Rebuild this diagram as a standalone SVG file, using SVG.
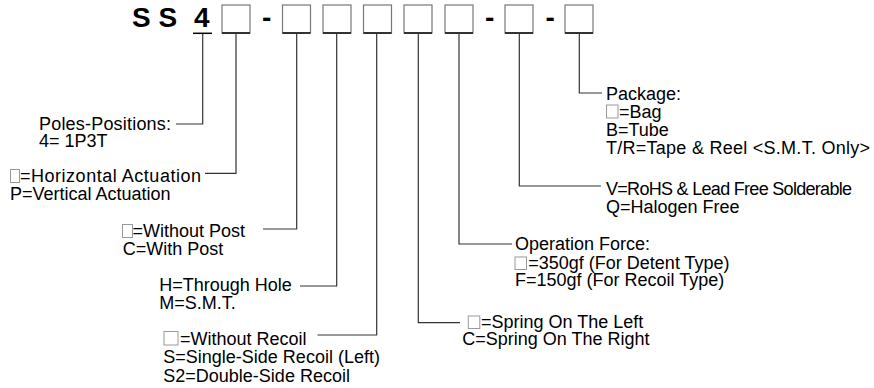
<svg xmlns="http://www.w3.org/2000/svg" width="874" height="388" viewBox="0 0 874 388">
<style>
.t{font-family:"Liberation Sans",Arial,sans-serif;font-size:18px;fill:#000}
.h{font-family:"Liberation Sans",Arial,sans-serif;font-size:28px;font-weight:bold;fill:#000}
.bx{fill:#fff;stroke:#777;stroke-width:1.2}
.bb{stroke:#333;stroke-width:2}
.sb{fill:#fff;stroke:#999;stroke-width:1}
.ln{fill:none;stroke:#333;stroke-width:1.2}
</style>
<rect width="874" height="388" fill="#fff"/>
<g id="code">
<text class="h" x="132" y="26.5">S S</text>
<text class="h" x="194" y="26.5">4</text>
<line x1="193" y1="33.3" x2="212" y2="33.3" stroke="#000" stroke-width="1.5"/>
<text class="h" x="262" y="26.5">-</text>
<text class="h" x="485" y="26.5">-</text>
<text class="h" x="545.5" y="26.5">-</text>
</g>
<g id="boxes">
<rect class="bx" x="222" y="5" width="28" height="28"/><line class="bb" x1="222" y1="33" x2="250" y2="33"/>
<rect class="bx" x="282.5" y="5" width="28" height="28"/><line class="bb" x1="282.5" y1="33" x2="310.5" y2="33"/>
<rect class="bx" x="323" y="5" width="28" height="28"/><line class="bb" x1="323" y1="33" x2="351" y2="33"/>
<rect class="bx" x="363.5" y="5" width="28" height="28"/><line class="bb" x1="363.5" y1="33" x2="391.5" y2="33"/>
<rect class="bx" x="404" y="5" width="28" height="28"/><line class="bb" x1="404" y1="33" x2="432" y2="33"/>
<rect class="bx" x="445" y="5" width="28" height="28"/><line class="bb" x1="445" y1="33" x2="473" y2="33"/>
<rect class="bx" x="505" y="5" width="28" height="28"/><line class="bb" x1="505" y1="33" x2="533" y2="33"/>
<rect class="bx" x="565" y="5" width="28" height="28"/><line class="bb" x1="565" y1="33" x2="593" y2="33"/>
</g>
<g id="connectors">
<polyline class="ln" points="202.7,34 202.7,124 176,124"/>
<polyline class="ln" points="236,34 236,173.3 205,173.3"/>
<polyline class="ln" points="296.7,34 296.7,229 263,229"/>
<polyline class="ln" points="336.7,34 336.7,286 300,286"/>
<polyline class="ln" points="376.7,34 376.7,335 317.5,335"/>
<polyline class="ln" points="418.3,34 418.3,322.7 460,322.7"/>
<polyline class="ln" points="459,34 459,244 512,244"/>
<polyline class="ln" points="519.3,34 519.3,186 601,186"/>
<polyline class="ln" points="579.3,34 579.3,93 602,93"/>
</g>
<g id="poles">
<text class="t" x="39" y="129.5" textLength="132" lengthAdjust="spacing">Poles-Positions:</text>
<text class="t" x="39" y="146.7">4= 1P3T</text>
</g>
<g id="actuation">
<rect class="sb" x="10.5" y="169.5" width="9" height="13"/>
<text class="t" x="20" y="182" textLength="181" lengthAdjust="spacing">=Horizontal Actuation</text>
<text class="t" x="10" y="199.5">P=Vertical Actuation</text>
</g>
<g id="post">
<rect class="sb" x="122.5" y="224.5" width="10" height="13"/>
<text class="t" x="132.5" y="237">=Without Post</text>
<text class="t" x="122.7" y="255">C=With Post</text>
</g>
<g id="mounting">
<text class="t" x="159.3" y="290.5">H=Through Hole</text>
<text class="t" x="159.3" y="308.5">M=S.M.T.</text>
</g>
<g id="recoil">
<rect class="sb" x="164" y="331.5" width="14" height="13.5"/>
<text class="t" x="180" y="345">=Without Recoil</text>
<text class="t" x="163.3" y="363.3">S=Single-Side Recoil (Left)</text>
<text class="t" x="163.3" y="381.5">S2=Double-Side Recoil</text>
</g>
<g id="spring">
<rect class="sb" x="468.3" y="316" width="11.5" height="12.5"/>
<text class="t" x="481" y="327.5">=Spring On The Left</text>
<text class="t" x="462.3" y="345">C=Spring On The Right</text>
</g>
<g id="force">
<text class="t" x="515" y="250">Operation Force:</text>
<rect class="sb" x="515" y="257" width="11.5" height="12.5"/>
<text class="t" x="528.3" y="268.5">=350gf (For Detent Type)</text>
<text class="t" x="515" y="286">F=150gf (For Recoil Type)</text>
</g>
<g id="rohs">
<text class="t" x="606" y="195" textLength="246" lengthAdjust="spacing">V=RoHS &amp; Lead Free Solderable</text>
<text class="t" x="606" y="212.5">Q=Halogen Free</text>
</g>
<g id="package">
<text class="t" x="606" y="100">Package:</text>
<rect class="sb" x="606.5" y="105" width="11.5" height="13"/>
<text class="t" x="619" y="118">=Bag</text>
<text class="t" x="606" y="136">B=Tube</text>
<text class="t" x="606" y="154" textLength="264" lengthAdjust="spacing">T/R=Tape &amp; Reel &lt;S.M.T. Only&gt;</text>
</g>
</svg>
